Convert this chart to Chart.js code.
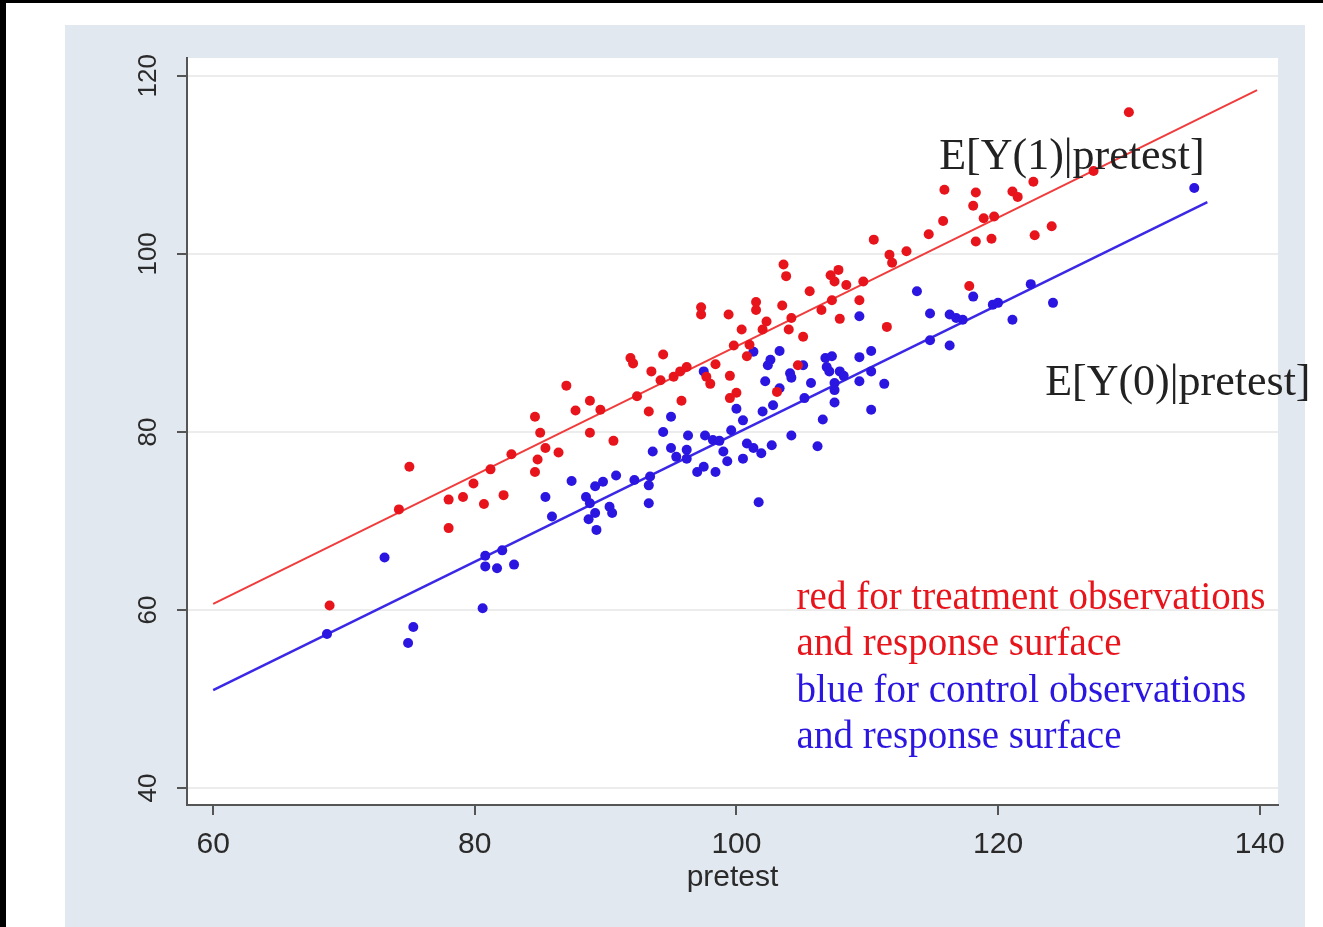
<!DOCTYPE html>
<html>
<head>
<meta charset="utf-8">
<script src="https://cdn.jsdelivr.net/npm/chart.js@4.4.1/dist/chart.umd.min.js"></script>
<style>
  html, body { margin: 0; padding: 0; background: #fff; }
  #wrap { position: relative; width: 1323px; height: 927px; }
</style>
</head>
<body>
<div id="wrap"><canvas id="chart"></canvas></div>
<script>
// treatment group: pretest / posttest
const treatPretest = [68.9, 74.2, 75.0, 78.0, 78.0, 79.1, 79.9, 80.7, 81.2, 82.2, 82.8, 84.6, 84.6, 84.8, 85.0, 85.4, 86.4, 87.0, 87.7, 88.8,
  88.8, 89.6, 90.6, 91.9, 92.1, 92.4, 93.3, 93.5, 94.2, 94.4, 95.2, 95.7, 95.8, 96.2, 97.3, 97.3, 97.7, 98.0, 98.4, 99.4,
  99.5, 99.5, 99.8, 100.0, 100.4, 100.8, 101.0, 101.5, 101.5, 102.0, 102.3, 103.1, 103.5, 103.6, 103.8, 104.0, 104.2, 104.7, 105.1, 105.6,
  106.5, 107.2, 107.3, 107.5, 107.8, 107.9, 108.4, 109.4, 109.7, 110.5, 111.5, 111.7, 111.9, 113.0, 114.7, 115.8, 115.9, 117.8, 118.1, 118.3,
  118.3, 118.9, 119.5, 119.7, 121.1, 121.5, 122.7, 122.8, 124.1, 127.3, 130.0];
const treatPosttest = [60.5, 71.3, 76.1, 72.4, 69.2, 72.7, 74.2, 71.9, 75.8, 72.9, 77.5, 81.7, 75.5, 76.9, 79.9, 78.2, 77.7, 85.2, 82.4, 79.9,
  83.5, 82.5, 79.0, 88.3, 87.7, 84.0, 82.3, 86.8, 85.8, 88.7, 86.2, 86.8, 83.5, 87.3, 94.0, 93.2, 86.2, 85.4, 87.6, 93.2,
  83.8, 86.3, 89.7, 84.4, 91.5, 88.5, 89.8, 94.6, 93.7, 91.5, 92.4, 84.5, 94.2, 98.8, 97.5, 91.5, 92.8, 87.5, 90.7, 95.8,
  93.7, 97.6, 94.8, 96.9, 98.2, 92.7, 96.5, 94.8, 96.9, 101.6, 91.8, 99.9, 99.0, 100.3, 102.2, 103.7, 107.2, 96.4, 105.4, 106.9,
  101.4, 104.0, 101.7, 104.2, 107.0, 106.4, 108.1, 102.1, 103.1, 109.3, 115.9];

// control group: pretest / posttest
const controlPretest = [68.7, 73.1, 74.9, 75.3, 80.6, 80.8, 80.8, 81.7, 82.1, 83.0, 85.4, 85.9, 87.4, 88.5, 88.8, 88.7, 89.2, 89.2, 89.3, 89.8,
  90.3, 90.5, 90.8, 92.2, 93.3, 93.4, 93.3, 93.6, 94.4, 95.0, 95.0, 95.4, 96.2, 96.2, 96.3, 97.0, 97.5, 97.5, 97.6, 98.2,
  98.4, 98.7, 99.0, 99.3, 99.6, 100.0, 100.5, 100.5, 100.8, 101.3, 101.3, 101.7, 101.9, 102.0, 102.2, 102.4, 102.6, 102.7, 102.8, 103.3,
  103.3, 104.1, 104.2, 104.2, 105.1, 105.2, 105.7, 106.2, 106.6, 106.8, 106.9, 107.1, 107.3, 107.5, 107.5, 107.5, 107.9, 108.2, 109.4, 109.4,
  109.4, 110.3, 110.3, 110.3, 111.3, 113.8, 114.8, 114.8, 116.3, 116.3, 116.8, 117.3, 118.1, 119.6, 120.0, 121.1, 122.5, 124.2, 135.0];
const controlPosttest = [57.3, 65.9, 56.3, 58.1, 60.2, 66.1, 64.9, 64.7, 66.7, 65.1, 72.7, 70.5, 74.5, 72.7, 72.0, 70.2, 73.9, 70.9, 69.0, 74.4,
  71.6, 70.9, 75.1, 74.6, 74.0, 75.0, 72.0, 77.8, 80.0, 81.7, 78.2, 77.2, 78.0, 77.0, 79.6, 75.5, 76.1, 86.8, 79.6, 79.1,
  75.5, 79.0, 77.8, 76.7, 80.2, 82.6, 81.3, 77.0, 78.7, 89.0, 78.2, 72.1, 77.6, 82.3, 85.7, 87.5, 88.1, 78.5, 83.0, 89.1,
  84.9, 86.6, 86.1, 79.6, 87.5, 83.8, 85.5, 78.4, 81.4, 88.3, 87.3, 86.8, 88.5, 85.5, 84.7, 83.3, 86.8, 86.3, 93.0, 88.4,
  85.7, 89.1, 86.8, 82.5, 85.4, 95.8, 93.3, 90.3, 89.7, 93.2, 92.8, 92.6, 95.2, 94.3, 94.5, 92.6, 96.6, 94.5, 107.4];

// fitted response surfaces (end points)
const treatFitX = [60, 139.8];
const treatFitY = [60.7, 118.4];
const controlFitX = [60, 136.0];
const controlFitY = [51.0, 105.8];

const xTicks = [60, 80, 100, 120, 140];
const yTicks = [40, 60, 80, 100, 120];

const RED = "#e8141c";
const BLUE = "#2a16e0";
const SANS = "'Liberation Sans', Arial, sans-serif";

const pairs = (xs, ys) => xs.map((x, i) => ({x: x, y: ys[i]}));

// text drawn on the plot, placed in data units
const notes = [
  {text: "E[Y(1)|pretest]", x: 115.5, y: 110.8, color: "#222", size: 44},
  {text: "E[Y(0)|pretest]", x: 123.6, y: 85.5, color: "#222", size: 44},
  {text: "red for treatment observations", x: 104.6, y: 61.3, color: RED, size: 39},
  {text: "and response surface", x: 104.6, y: 56.1, color: RED, size: 39},
  {text: "blue for control observations", x: 104.6, y: 50.8, color: BLUE, size: 39},
  {text: "and response surface", x: 104.6, y: 45.6, color: BLUE, size: 39}
];

const backdrop = {
  id: "backdrop",
  beforeDraw(chart) {
    const {ctx, chartArea: a} = chart;
    ctx.save();
    ctx.fillStyle = "#fff";
    ctx.fillRect(0, 0, chart.width, chart.height);
    ctx.fillStyle = "#000";
    ctx.fillRect(0, 0, 6, chart.height);
    ctx.fillRect(0, 0, chart.width, 3);
    ctx.fillStyle = "#e2e8f0";
    ctx.fillRect(65, 25, 1240, chart.height - 25);
    ctx.fillStyle = "#fff";
    ctx.fillRect(a.left, a.top, a.right - a.left, a.bottom - a.top);
    ctx.restore();
  }
};

const annotate = {
  id: "annotate",
  afterDraw(chart) {
    const {ctx, scales} = chart;
    ctx.save();
    ctx.textAlign = "left";
    ctx.textBaseline = "middle";
    notes.forEach(n => {
      ctx.font = n.size + "px 'Liberation Serif', 'Times New Roman', serif";
      ctx.fillStyle = n.color;
      ctx.fillText(n.text, scales.x.getPixelForValue(n.x), scales.y.getPixelForValue(n.y));
    });
    ctx.restore();
  }
};

new Chart(document.getElementById("chart"), {
  type: "scatter",
  data: {
    datasets: [
      {
        label: "treatment",
        data: pairs(treatPretest, treatPosttest),
        backgroundColor: RED,
        borderWidth: 0,
        pointRadius: 5
      },
      {
        label: "control",
        data: pairs(controlPretest, controlPosttest),
        backgroundColor: BLUE,
        borderWidth: 0,
        pointRadius: 5
      },
      {
        label: "treatment fit",
        type: "line",
        data: pairs(treatFitX, treatFitY),
        borderColor: "#f03c3c",
        borderWidth: 2,
        pointRadius: 0
      },
      {
        label: "control fit",
        type: "line",
        data: pairs(controlFitX, controlFitY),
        borderColor: "#3a28e6",
        borderWidth: 2.5,
        pointRadius: 0
      }
    ]
  },
  options: {
    responsive: true,
    maintainAspectRatio: false,
    animation: false,
    layout: {padding: {left: 65, top: 58, right: 45, bottom: 0}},
    plugins: {legend: {display: false}, tooltip: {enabled: false}},
    scales: {
      x: {
        type: "linear",
        min: 58.0,
        max: 141.4,
        afterBuildTicks: s => { s.ticks = xTicks.map(v => ({value: v})); },
        afterFit: s => { s.height = 122; },
        grid: {drawOnChartArea: false, tickLength: 10, tickColor: "#555", lineWidth: 2},
        border: {color: "#555", width: 2},
        ticks: {color: "#2a2a2a", padding: 12, font: {family: SANS, size: 30}},
        title: {
          display: true,
          text: "pretest",
          color: "#2a2a2a",
          padding: {top: 0, bottom: 31},
          font: {family: SANS, size: 30}
        }
      },
      y: {
        min: 38.1,
        max: 122.0,
        afterBuildTicks: s => { s.ticks = yTicks.map(v => ({value: v})); },
        afterFit: s => { s.width = 122; },
        grid: {color: "#ececec", lineWidth: 2, tickLength: 10, tickColor: "#555"},
        border: {color: "#555", width: 2},
        ticks: {
          color: "#2a2a2a",
          padding: 6,
          minRotation: 90,
          maxRotation: 90,
          crossAlign: "center",
          font: {family: SANS, size: 26}
        }
      }
    }
  },
  plugins: [backdrop, annotate]
});
</script>
</body>
</html>
